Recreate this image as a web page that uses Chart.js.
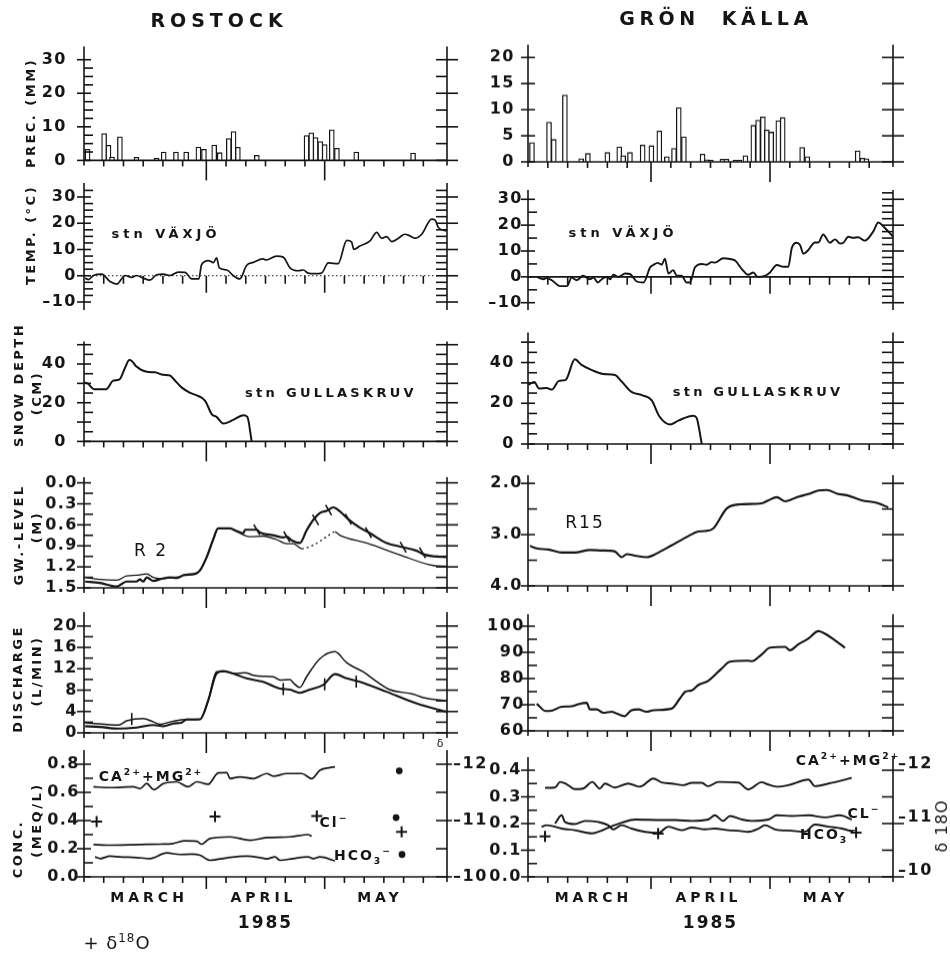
<!DOCTYPE html>
<html lang="sv">
<head>
<meta charset="utf-8">
<title>Rostock / Grön Källa 1985</title>
<script src="https://cdn.jsdelivr.net/npm/chart.js@4.4.1/dist/chart.umd.min.js"></script>
<style>
html,body{margin:0;padding:0;background:#fff}
body{position:relative;width:950px;height:954px;overflow:hidden;font-family:"DejaVu Sans",sans-serif;color:#151515}
.panel{position:absolute}
.panel canvas{display:block}
.t{position:absolute;white-space:nowrap;line-height:1;font-weight:bold}
.t sup,.t sub{font-size:66%;line-height:0}
</style>
</head>
<body>
<script>
const INK = '#151515';
const FONT = '"DejaVu Sans", "Liberation Sans", sans-serif';

// ---------------- x axis: days after 1 March 1985 (31 = 1 Apr, 61 = 1 May, 92 = 1 Jun) --------------
const dayMin = 0, dayMax = 92;
const monthNames = ['MARCH', 'APRIL', 'MAY'];
const monthMidDays = [16.5, 45.5, 75];
const monthStartDays = [31, 61];
const fiveDayTicks = [5, 10, 15, 20, 25, 36, 41, 46, 51, 56, 66, 71, 76, 81, 86];
const yearLabel = '1985';

// ---------------- precipitation (mm) ----------------
const precRostockDays = [0.9, 5.1, 6.2, 7.1, 9.1, 13.3, 18.4, 20.2, 23.3, 25.9, 29.0, 30.4, 33.0, 34.4, 36.7, 37.9, 39.0, 43.8, 56.4, 57.6, 58.7, 59.9, 61.0, 62.8, 64.1, 69.0, 83.4];
const precRostock = [3.3, 8.0, 4.5, 1.0, 7.0, 0.9, 0.7, 2.5, 2.5, 2.5, 4.0, 3.3, 4.6, 2.3, 6.5, 8.6, 3.9, 1.5, 7.4, 8.2, 6.8, 5.6, 4.7, 9.1, 3.6, 2.5, 2.2];
const precGronDays = [1.0, 5.3, 6.5, 9.3, 13.4, 15.1, 20.0, 23.0, 24.0, 25.7, 28.9, 31.1, 33.1, 35.0, 36.8, 38.0, 39.3, 44.0, 45.1, 46.1, 49.0, 50.0, 52.3, 53.3, 54.8, 56.8, 58.0, 59.2, 60.2, 61.3, 63.1, 64.2, 69.1, 70.4, 83.1, 84.3, 85.3];
const precGron = [3.7, 7.6, 4.3, 12.8, 0.6, 1.6, 1.8, 2.9, 1.2, 1.8, 3.2, 3.1, 5.9, 1.0, 2.6, 10.4, 4.8, 1.5, 0.4, 0.3, 0.5, 0.5, 0.3, 0.3, 1.2, 7.0, 8.0, 8.6, 6.1, 5.7, 7.9, 8.5, 2.8, 1.0, 2.1, 0.7, 0.6];

// ---------------- air temperature, stn Växjö (°C) ----------------
const tempRostockDays = [0.3, 1.1, 2.4, 4.5, 6.6, 8.3, 10.4, 12.1, 13.3, 15.0, 16.7, 18.4, 20.1, 21.8, 23.9, 25.6, 27.3, 29.1, 29.8, 31.5, 32.8, 33.6, 34.3, 36.2, 37.8, 39.5, 41.2, 42.9, 45.4, 46.2, 48.8, 50.5, 52.2, 54.3, 55.6, 56.8, 58.5, 60.2, 61.9, 64.4, 66.6, 67.8, 68.4, 69.9, 72.5, 74.2, 75.4, 76.7, 78.0, 79.7, 81.3, 82.6, 83.9, 85.6, 88.1, 89.0, 89.8, 91.9];
const tempRostock = [-0.9, -1.5, 0.1, 0.6, -2.2, -3.2, 0.1, -0.6, 0.1, -0.9, -1.7, 0.4, 0.6, 0.1, 1.4, 1.3, -1.2, -1.2, 4.2, 5.8, 5.0, 6.8, 3.0, 2.2, 0.1, -1.2, 3.9, 5.1, 6.4, 6.0, 7.5, 7.1, 3.0, 1.9, 2.2, 1.0, 0.8, 1.0, 4.9, 4.6, 13.5, 12.9, 10.0, 11.3, 13.3, 16.5, 14.3, 14.9, 13.0, 14.3, 15.8, 15.2, 14.3, 15.8, 21.6, 21.2, 18.4, 17.1];
const tempGronDays = [2.2, 3.9, 4.7, 6.0, 8.1, 9.8, 11.0, 12.3, 13.9, 15.6, 16.5, 17.6, 18.6, 19.8, 20.7, 21.5, 22.8, 24.5, 25.7, 27.4, 29.1, 30.8, 31.6, 32.7, 33.7, 34.5, 35.4, 36.6, 37.5, 38.7, 40.0, 40.8, 42.1, 43.8, 45.0, 46.3, 47.1, 49.2, 50.9, 52.2, 53.9, 55.5, 56.8, 57.9, 59.7, 61.0, 62.7, 64.4, 65.6, 66.5, 67.7, 68.6, 69.4, 70.6, 72.3, 73.2, 74.4, 76.1, 77.4, 78.6, 79.5, 80.7, 82.0, 83.2, 84.9, 87.0, 88.3, 89.6, 92.0];
const tempGron = [0.0, -0.9, -0.5, -1.3, -3.6, -3.6, -0.3, -1.3, 0.4, -0.9, -0.3, -2.2, -0.9, 0.0, -0.9, 0.8, 0.0, 1.3, 1.1, -1.8, -2.2, 3.7, 4.6, 5.4, 4.7, 7.0, 1.3, 2.6, 0.4, 0.4, -2.2, -2.2, 3.7, 5.0, 4.7, 5.7, 5.5, 7.2, 6.9, 6.3, 3.0, 0.8, 1.7, 0.0, 0.4, 1.7, 4.6, 3.9, 3.9, 11.2, 13.2, 12.2, 8.9, 10.3, 13.3, 13.3, 16.4, 13.2, 14.5, 12.9, 13.2, 15.5, 15.1, 15.3, 14.0, 17.5, 21.0, 19.5, 15.5];

// ---------------- snow depth, stn Gullaskruv (cm) ----------------
const snowRostockDays = [0.3, 1.1, 2.5, 5.6, 7.4, 9.0, 10.4, 11.5, 12.1, 13.2, 15.9, 18.0, 20.1, 21.8, 22.6, 24.8, 26.9, 28.6, 30.7, 32.4, 33.6, 35.3, 37.8, 40.4, 41.4, 42.5];
const snowRostock = [30.5, 29.7, 27.0, 27.0, 31.4, 32.1, 38.1, 42.1, 41.6, 38.9, 36.0, 35.7, 34.4, 34.1, 32.5, 27.8, 25.1, 23.8, 21.0, 14.0, 12.7, 9.2, 11.1, 13.5, 12.7, 0];
const snowGronDays = [0.1, 1.6, 2.8, 4.7, 6.0, 7.8, 9.5, 11.8, 13.4, 16.1, 19.0, 21.9, 23.6, 26.1, 28.7, 31.2, 33.0, 35.8, 37.9, 41.7, 42.5, 43.8];
const snowGron = [29.1, 30.4, 27.2, 27.5, 26.7, 31.0, 31.5, 41.6, 39.0, 36.3, 34.4, 33.9, 30.7, 25.6, 24.0, 21.4, 13.9, 9.6, 11.5, 13.9, 12.8, 0];

// ---------------- groundwater level (m below surface) ----------------
const gwR2Days = [0.3, 4.0, 8.3, 10.8, 13.3, 14.2, 15.0, 15.9, 17.6, 19.7, 21.8, 23.5, 25.2, 28.1, 29.4, 31.1, 32.8, 34.0, 37.0, 38.7, 40.4, 40.8, 43.8, 44.6, 48.0, 50.5, 51.4, 52.6, 54.7, 56.4, 58.1, 59.8, 61.5, 63.2, 64.9, 67.0, 69.9, 72.5, 76.7, 80.1, 84.3, 86.0, 88.5, 91.9];
const gwR2 = [1.41, 1.43, 1.48, 1.41, 1.41, 1.38, 1.41, 1.35, 1.40, 1.37, 1.35, 1.36, 1.32, 1.30, 1.25, 1.06, 0.80, 0.65, 0.65, 0.69, 0.72, 0.67, 0.67, 0.71, 0.75, 0.78, 0.77, 0.82, 0.86, 0.68, 0.53, 0.43, 0.40, 0.35, 0.41, 0.52, 0.64, 0.72, 0.86, 0.91, 0.97, 1.02, 1.05, 1.06];
const gwR2bDays = [0.3, 4.0, 8.3, 10.8, 13.3, 15.9, 17.6, 20.1, 22.6, 24.3, 25.5, 28.1, 29.4, 31.1, 32.8, 34.0, 37.0, 39.5, 42.1, 45.4, 48.8, 51.4, 53.0, 55.2, 58.1, 61.5, 63.6, 64.9, 71.6, 80.1, 88.5, 91.9];
const gwR2b = [1.35, 1.38, 1.39, 1.33, 1.32, 1.30, 1.35, 1.37, 1.35, 1.34, 1.31, 1.30, 1.25, 1.06, 0.80, 0.65, 0.65, 0.72, 0.77, 0.76, 0.81, 0.87, 0.87, 0.94, 0.89, 0.77, 0.70, 0.75, 0.86, 1.03, 1.18, 1.19];
const gwR2MarkDays = [43.8, 51.4, 58.7, 62.0, 67.0, 72.1, 80.9, 85.8];
const gwR2Marks = [0.67, 0.77, 0.53, 0.39, 0.52, 0.71, 0.92, 1.00];
const gwR15Days = [0.5, 2.2, 5.1, 8.5, 11.8, 15.6, 18.6, 21.9, 23.6, 24.9, 27.0, 29.9, 32.4, 36.2, 40.4, 42.9, 44.6, 46.7, 50.1, 53.4, 58.9, 60.6, 62.7, 64.8, 68.1, 70.7, 73.2, 75.3, 78.2, 80.3, 84.1, 88.3, 90.8];
const gwR15 = [3.22, 3.27, 3.29, 3.35, 3.35, 3.30, 3.31, 3.33, 3.44, 3.38, 3.41, 3.44, 3.37, 3.21, 3.03, 2.94, 2.93, 2.88, 2.49, 2.41, 2.39, 2.33, 2.27, 2.35, 2.26, 2.21, 2.14, 2.13, 2.21, 2.23, 2.33, 2.39, 2.47];

// ---------------- discharge ----------------
const dischRostockUpperDays = [0.3, 2.8, 8.7, 10.8, 15.0, 17.6, 19.3, 21.8, 24.3, 26.0, 29.4, 31.5, 33.6, 36.2, 37.8, 40.8, 42.9, 45.4, 48.0, 49.7, 52.2, 53.0, 54.7, 56.4, 59.8, 63.6, 66.6, 70.8, 74.2, 77.5, 83.4, 86.0, 91.9];
const dischRostockUpper = [1.9, 1.75, 1.45, 2.25, 2.7, 2.05, 1.6, 2.05, 2.4, 2.55, 2.55, 6.1, 11.45, 11.45, 11.1, 11.25, 10.8, 10.6, 10.5, 9.9, 10.0, 9.4, 8.5, 10.5, 13.9, 15.2, 13.1, 11.4, 9.6, 8.1, 7.25, 6.6, 6.0];
const dischRostockLowerDays = [0.3, 4.1, 8.7, 13.3, 17.6, 20.1, 22.6, 24.8, 26.0, 29.4, 31.5, 33.6, 35.3, 37.8, 41.2, 45.4, 49.7, 52.2, 54.7, 57.2, 60.6, 63.6, 66.6, 69.9, 76.7, 84.3, 91.9];
const dischRostockLower = [1.25, 1.1, 0.8, 1.0, 1.45, 1.25, 1.75, 1.95, 2.5, 2.55, 6.1, 11.1, 11.55, 11.1, 10.2, 9.55, 8.3, 8.1, 7.5, 8.1, 8.95, 11.0, 10.2, 9.55, 7.7, 5.5, 3.95];
const dischRostockMarkDays = [12.1, 50.5, 61.0, 69.0];
const dischRostockMarks = [2.6, 8.2, 9.1, 9.6];
const dischGronDays = [2.2, 3.0, 4.3, 5.5, 8.5, 11.0, 12.7, 14.8, 15.6, 17.3, 19.0, 21.1, 22.4, 24.3, 26.1, 27.8, 29.9, 31.6, 36.2, 38.3, 39.6, 41.3, 42.9, 45.4, 48.8, 50.9, 55.5, 56.4, 58.9, 61.0, 64.8, 66.0, 68.1, 70.7, 73.2, 74.4, 77.4, 79.9];
const dischGron = [70.4, 69.2, 67.6, 67.6, 69.2, 69.4, 70.2, 70.7, 68.2, 68.2, 66.9, 67.3, 66.6, 65.6, 67.9, 68.2, 67.3, 67.9, 68.5, 72.4, 74.9, 75.5, 77.5, 79.1, 83.8, 86.4, 86.8, 86.6, 89.2, 91.8, 92.1, 90.8, 93.0, 95.3, 98.1, 97.5, 94.6, 91.8];

// ---------------- concentrations (meq/l) and delta 18O ----------------
const concCaMgRostockDays = [2.4, 6.6, 12.5, 14.2, 15.9, 17.7, 20.1, 23.5, 26.4, 28.6, 31.5, 34.0, 36.2, 37.0, 39.5, 42.9, 46.3, 48.0, 51.4, 55.2, 57.7, 59.8, 63.6];
const concCaMgRostock = [0.64, 0.634, 0.64, 0.627, 0.663, 0.62, 0.663, 0.675, 0.64, 0.675, 0.658, 0.738, 0.741, 0.698, 0.71, 0.698, 0.734, 0.715, 0.734, 0.734, 0.698, 0.757, 0.781];
const concClRostockDays = [2.4, 6.6, 14.2, 19.3, 22.6, 25.6, 28.6, 29.8, 31.9, 37.0, 42.1, 46.3, 52.2, 56.8, 57.7];
const concClRostock = [0.23, 0.225, 0.23, 0.232, 0.237, 0.256, 0.253, 0.232, 0.272, 0.284, 0.26, 0.279, 0.284, 0.30, 0.289];
const concHco3RostockDays = [2.8, 4.1, 6.6, 9.1, 13.3, 16.7, 21.0, 24.3, 27.3, 29.4, 31.9, 36.2, 41.2, 44.6, 46.3, 48.4, 49.7, 53.0, 56.8, 58.1, 59.8, 63.6];
const concHco3Rostock = [0.142, 0.13, 0.147, 0.142, 0.137, 0.13, 0.17, 0.159, 0.161, 0.154, 0.118, 0.135, 0.147, 0.137, 0.128, 0.142, 0.118, 0.13, 0.142, 0.13, 0.142, 0.114];
const singleRostockDays = [79.9, 79.1, 80.6];
const singleRostock = [0.753, 0.421, 0.159];
const d18oRostockDays = [3.2, 33.2, 59.0, 80.5];
const d18oRostock = [-10.98, -11.07, -11.08, -10.80];

const concCaMgGronDays = [4.3, 6.8, 8.1, 9.7, 11.8, 13.9, 16.2, 18.1, 19.4, 21.9, 25.3, 28.2, 31.6, 33.7, 36.2, 39.2, 41.3, 43.8, 45.4, 48.0, 53.0, 55.5, 58.9, 60.2, 62.7, 65.6, 70.7, 72.3, 75.7, 81.6];
const concCaMgGron = [0.334, 0.335, 0.356, 0.348, 0.329, 0.331, 0.356, 0.331, 0.35, 0.335, 0.35, 0.338, 0.369, 0.354, 0.35, 0.344, 0.353, 0.353, 0.34, 0.356, 0.354, 0.328, 0.355, 0.348, 0.338, 0.344, 0.365, 0.34, 0.35, 0.371];
const concClGronDays = [3.4, 4.7, 8.5, 11.8, 16.1, 17.7, 21.1, 23.6, 27.0, 33.7, 37.1, 41.3, 45.4, 47.1, 49.2, 50.9, 53.9, 56.4, 60.6, 62.7, 66.5, 70.7, 74.9, 78.6, 81.6];
const concClGron = [0.188, 0.194, 0.181, 0.175, 0.163, 0.169, 0.19, 0.203, 0.215, 0.213, 0.213, 0.21, 0.215, 0.231, 0.21, 0.228, 0.215, 0.21, 0.215, 0.231, 0.228, 0.231, 0.223, 0.231, 0.215];
const concHco3GronDays = [6.8, 8.5, 9.3, 11.8, 14.4, 17.7, 20.2, 21.5, 23.6, 26.1, 29.5, 32.8, 35.4, 38.7, 41.3, 44.6, 47.1, 50.5, 53.0, 55.5, 58.1, 59.7, 62.3, 66.5, 69.8, 72.3, 75.7, 79.1, 82.0];
const concHco3Gron = [0.2, 0.231, 0.206, 0.198, 0.21, 0.206, 0.194, 0.178, 0.194, 0.181, 0.169, 0.165, 0.188, 0.175, 0.185, 0.178, 0.181, 0.175, 0.173, 0.169, 0.181, 0.194, 0.178, 0.173, 0.169, 0.196, 0.188, 0.181, 0.169];
const d18oGronDays = [4.3, 32.8, 82.7];
const d18oGron = [-10.76, -10.81, -10.83];

// ---------------- y tick values ----------------
const precRostockTicks = [0, 10, 20, 30];
const precRostockMinor = [2.5, 5, 7.5, 12.5, 15, 17.5, 22.5, 25, 27.5];
const precRostockRightMinor = [5, 15, 25];
const precGronTicks = [0, 5, 10, 15, 20];
const tempTicks = [-10, 0, 10, 20, 30];
const tempMinorFine = [-7.5, -5, -2.5, 2.5, 5, 7.5, 12.5, 15, 17.5, 22.5, 25, 27.5, 32.5];
const tempMinorCoarse = [-5, 5, 15, 25];
const snowTicks = [0, 20, 40];
const snowTens = [0, 10, 20, 30, 40, 50];
const snowFives = [5, 15, 25, 35, 45];
const gwR2Ticks = [0, 0.3, 0.6, 0.9, 1.2, 1.5];
const gwR2Minor = [0.15, 0.45, 0.75, 1.05, 1.35];
const gwR15Ticks = [2, 3, 4];
const gwR15Minor = [2.5, 3.5];
const dischRostockTicks = [0, 4, 8, 12, 16, 20];
const dischRostockMinor = [2, 6, 10, 14, 18];
const dischGronTicks = [60, 70, 80, 90, 100];
const dischGronMinor = [65, 75, 85, 95];
const concRostockTicks = [0, 0.2, 0.4, 0.6, 0.8];
const concRostockMinor = [0.1, 0.3, 0.5, 0.7];
const concGronTicks = [0, 0.1, 0.2, 0.3, 0.4];
const concGronMinor = [0.05, 0.15, 0.25, 0.35];
const d18oTicks = [-12, -11, -10];
const d18oMinor = [-11.5, -10.5];

// ---------------- helpers ----------------
const pts = (days, vals) => days.map((d, i) => ({x: d, y: vals[i]}));
const fmt = (v, dec) => (v < 0 ? '\u2013' : '') + Math.abs(v).toFixed(dec);
function line(days, vals, extra) {
  return Object.assign({type: 'line', data: pts(days, vals), borderColor: INK, borderWidth: 2,
    pointRadius: 0, cubicInterpolationMode: 'monotone', fill: false}, extra || {});
}
function bars(days, vals) {
  return {type: 'bar', data: pts(days, vals), backgroundColor: '#fff', borderColor: INK,
    borderWidth: 1.3, barThickness: 5, borderSkipped: 'bottom'};
}
function marks(days, vals, style) {
  return Object.assign({type: 'line', showLine: false, data: pts(days, vals), borderColor: INK,
    backgroundColor: INK, pointBorderWidth: 1.6}, style);
}
const L_AX = {out: 7, inn: 7, mi: 9};
const R_AX = {out: 11, inn: 11, mi: 11};
const yAx = (id, side, major, minor, extra) => Object.assign({id, side, major, minor: minor || []}, side === 'left' ? L_AX : R_AX, extra || {});

const sciAxes = {
  id: 'sciAxes',
  beforeDraw(chart) { chart.ctx.letterSpacing = '1.5px'; },
  afterDatasetsDraw(chart, args, o) {
    const {ctx, chartArea: a, scales} = chart;
    const xs = scales.x;
    const seg = (x1, y1, x2, y2) => { ctx.beginPath(); ctx.moveTo(x1, y1); ctx.lineTo(x2, y2); ctx.stroke(); };
    ctx.save();
    ctx.strokeStyle = INK;
    ctx.lineWidth = 1.6;
    const baseY = (o.base !== undefined && o.base !== null) ? scales.y.getPixelForValue(o.base) : a.bottom;
    seg(a.left, a.top, a.left, a.bottom + 5);
    seg(a.right, a.top, a.right, a.bottom + 5);
    ctx.save();
    if (o.baseDash) { ctx.setLineDash(o.baseDash); ctx.lineWidth = 1.2; }
    seg(a.left, baseY, a.right, baseY);
    ctx.restore();
    fiveDayTicks.forEach(d => { const px = xs.getPixelForValue(d); seg(px, baseY, px, baseY + o.minorLen); });
    monthStartDays.forEach(d => { const px = xs.getPixelForValue(d); seg(px, baseY, px, baseY + o.majorLen); });
    (o.yAxes || []).forEach(ax => {
      const s = scales[ax.id];
      const px = ax.side === 'left' ? a.left : a.right;
      const dir = ax.side === 'left' ? 1 : -1;
      ax.major.forEach(v => { const py = s.getPixelForValue(v); seg(px - dir * ax.out, py, px + dir * ax.inn, py); });
      ax.minor.forEach(v => { const py = s.getPixelForValue(v); seg(px, py, px + dir * ax.mi, py); });
    });
    ctx.restore();
  }
};

const COLS = {
  L: {x: 0, w: 490, left: 84, right: 447},
  R: {x: 475, w: 475, left: 528, right: 893}
};

function makePanel(p) {
  const col = COLS[p.col];
  const top = p.top - 20;
  const h = p.bottom + 25 - top;
  const box = document.createElement('div');
  box.className = 'panel';
  Object.assign(box.style, {left: col.x + 'px', top: top + 'px', width: col.w + 'px', height: h + 'px'});
  const cv = document.createElement('canvas');
  cv.width = col.w; cv.height = h;
  cv.style.width = col.w + 'px'; cv.style.height = h + 'px';
  box.appendChild(cv);
  document.body.appendChild(box);
  const tickFont = {family: FONT, size: 16, weight: 'bold'};
  const scales = {
    x: {type: 'linear', display: false, offset: false, min: dayMin, max: dayMax},
    y: {type: 'linear', position: 'left', min: p.min, max: p.max, reverse: !!p.reverse,
      afterFit: s => { s.width = col.left - col.x; },
      afterBuildTicks: s => { s.ticks = p.labels.map(v => ({value: v})); },
      grid: {display: false, drawTicks: false}, border: {display: false},
      ticks: {padding: p.pad, color: INK, font: tickFont, autoSkip: false, callback: v => fmt(v, p.dec)}}
  };
  if (p.y2) {
    scales.y2 = {type: 'linear', position: 'right', min: p.y2.min, max: p.y2.max, reverse: true,
      afterFit: s => { s.width = col.x + col.w - col.right; },
      afterBuildTicks: s => { s.ticks = p.y2.labels.map(v => ({value: v})); },
      grid: {display: false, drawTicks: false}, border: {display: false},
      ticks: {padding: p.y2.pad || 4, labelOffset: p.y2.offset || 0, color: INK, font: tickFont, autoSkip: false, callback: v => fmt(v, 0)}};
  }
  const chart = new Chart(cv, {
    type: 'line',
    data: {datasets: p.datasets},
    options: {
      responsive: false, animation: false, events: [],
      layout: {padding: {top: 20, bottom: 25, left: 0, right: p.y2 ? 0 : col.x + col.w - col.right}},
      plugins: {legend: {display: false}, tooltip: {enabled: false}, sciAxes: p.axes},
      scales
    },
    plugins: [sciAxes]
  });
  return {chart, col};
}

function addText(html, x, y, o) {
  o = o || {};
  const el = document.createElement('div');
  el.className = 't';
  el.innerHTML = html;
  el.style.left = x + 'px';
  el.style.top = y + 'px';
  el.style.fontSize = (o.size || 14) + 'px';
  el.style.letterSpacing = (o.ls !== undefined ? o.ls : 2) + 'px';
  if (o.weight) el.style.fontWeight = o.weight;
  el.style.transform = 'translate(-50%, -50%)' + (o.rot ? ' rotate(' + o.rot + 'deg)' : '');
  document.body.appendChild(el);
  return el;
}

const stdX = {minorLen: 6, majorLen: 20};

// ---------------- ROSTOCK (left) ----------------
makePanel({col: 'L', top: 40, bottom: 162, min: 0, max: 33.9, labels: precRostockTicks, dec: 0, pad: 17,
  datasets: [bars(precRostockDays, precRostock)],
  axes: Object.assign({yAxes: [yAx('y', 'left', precRostockTicks, precRostockMinor), yAx('y', 'right', precRostockTicks, precRostockRightMinor)]}, stdX)});
makePanel({col: 'L', top: 183, bottom: 305, min: -11.14, max: 35.33, labels: tempTicks, dec: 0, pad: 7,
  datasets: [line(tempRostockDays, tempRostock, {borderWidth: 1.7})],
  axes: {base: 0, baseDash: [1.5, 2.5], minorLen: 8, majorLen: 17,
    yAxes: [yAx('y', 'left', tempTicks, tempMinorFine), yAx('y', 'right', tempTicks, tempMinorFine)]}});
makePanel({col: 'L', top: 335, bottom: 443.3, min: 0, max: 51.6, labels: snowTicks, dec: 0, pad: 17,
  datasets: [line(snowRostockDays, snowRostock)],
  axes: Object.assign({yAxes: [yAx('y', 'left', snowTens, snowFives), yAx('y', 'right', snowTens, snowFives)]}, stdX)});
makePanel({col: 'L', top: 477, bottom: 587.7, min: -0.081, max: 1.5, reverse: true, labels: gwR2Ticks, dec: 1, pad: 6,
  datasets: [
    line(gwR2Days, gwR2, {borderWidth: 2.2}),
    line(gwR2bDays, gwR2b, {borderWidth: 1.3, segment: {borderDash: c => (c.p0.parsed.x >= 55 && c.p1.parsed.x <= 64) ? [2, 3] : undefined}}),
    marks(gwR2MarkDays, gwR2Marks, {pointStyle: 'line', pointRadius: 6, pointRotation: 60})
  ],
  axes: Object.assign({yAxes: [yAx('y', 'left', gwR2Ticks, gwR2Minor), yAx('y', 'right', gwR2Ticks, gwR2Minor)]}, stdX)});
makePanel({col: 'L', top: 612, bottom: 732.7, min: 0, max: 22.6, labels: dischRostockTicks, dec: 0, pad: 6,
  datasets: [
    line(dischRostockUpperDays, dischRostockUpper, {borderWidth: 1.5}),
    line(dischRostockLowerDays, dischRostockLower, {borderWidth: 2.1}),
    marks(dischRostockMarkDays, dischRostockMarks, {pointStyle: 'line', pointRadius: 6, pointRotation: 90})
  ],
  axes: Object.assign({yAxes: [yAx('y', 'left', dischRostockTicks, dischRostockMinor), yAx('y', 'right', dischRostockTicks, dischRostockMinor)]}, stdX)});
const concL = makePanel({col: 'L', top: 750, bottom: 876.7, min: 0, max: 0.9, labels: concRostockTicks, dec: 1, pad: 4,
  y2: {min: -12.25, max: -10, labels: d18oTicks, pad: 6},
  datasets: [
    line(concCaMgRostockDays, concCaMgRostock, {borderWidth: 1.7}),
    line(concClRostockDays, concClRostock, {borderWidth: 1.7}),
    line(concHco3RostockDays, concHco3Rostock, {borderWidth: 1.7}),
    marks(singleRostockDays, singleRostock, {pointStyle: 'circle', pointRadius: 2.6}),
    marks(d18oRostockDays, d18oRostock, {yAxisID: 'y2', pointStyle: 'cross', pointRadius: 5.5, pointBorderWidth: 2})
  ],
  axes: {minorLen: 6, majorLen: 12,
    yAxes: [yAx('y', 'left', concRostockTicks, concRostockMinor), yAx('y2', 'right', d18oTicks, d18oMinor, {out: 5})]}});

// ---------------- GRÖN KÄLLA (right) ----------------
makePanel({col: 'R', top: 42, bottom: 161.5, min: 0, max: 22.44, labels: precGronTicks, dec: 0, pad: 13,
  datasets: [bars(precGronDays, precGron)],
  axes: Object.assign({yAxes: [yAx('y', 'left', precGronTicks), yAx('y', 'right', precGronTicks)]}, stdX)});
makePanel({col: 'R', top: 190, bottom: 305, min: -10.89, max: 33.6, labels: tempTicks, dec: 0, pad: 5,
  datasets: [line(tempGronDays, tempGron, {borderWidth: 1.9})],
  axes: {base: 0, minorLen: 8, majorLen: 17,
    yAxes: [yAx('y', 'left', tempTicks, tempMinorCoarse), yAx('y', 'right', tempTicks, tempMinorFine)]}});
makePanel({col: 'R', top: 330, bottom: 444, min: 0, max: 54.7, labels: snowTicks, dec: 0, pad: 13,
  datasets: [line(snowGronDays, snowGron)],
  axes: Object.assign({yAxes: [yAx('y', 'left', snowTens, snowFives), yAx('y', 'right', snowTens, snowFives)]}, stdX)});
makePanel({col: 'R', top: 475, bottom: 585.7, min: 1.84, max: 4.0, reverse: true, labels: gwR15Ticks, dec: 1, pad: 5,
  datasets: [line(gwR15Days, gwR15, {borderWidth: 2.1})],
  axes: Object.assign({yAxes: [yAx('y', 'left', gwR15Ticks, gwR15Minor), yAx('y', 'right', gwR15Ticks, gwR15Minor)]}, stdX)});
makePanel({col: 'R', top: 614, bottom: 730.7, min: 60, max: 104.6, labels: dischGronTicks, dec: 0, pad: 3,
  datasets: [line(dischGronDays, dischGron, {borderWidth: 2.1})],
  axes: Object.assign({yAxes: [yAx('y', 'left', dischGronTicks, dischGronMinor), yAx('y', 'right', dischGronTicks, dischGronMinor)]}, stdX)});
const concR = makePanel({col: 'R', top: 757, bottom: 876.7, min: 0, max: 0.449, labels: concGronTicks, dec: 1, pad: 6,
  y2: {min: -12.245, max: -10, labels: d18oTicks, offset: -6, pad: 5},
  datasets: [
    line(concCaMgGronDays, concCaMgGron, {borderWidth: 1.9}),
    line(concClGronDays, concClGron, {borderWidth: 1.9}),
    line(concHco3GronDays, concHco3Gron, {borderWidth: 1.9}),
    marks(d18oGronDays, d18oGron, {yAxisID: 'y2', pointStyle: 'cross', pointRadius: 5.5, pointBorderWidth: 2})
  ],
  axes: {minorLen: 6, majorLen: 12,
    yAxes: [yAx('y', 'left', concGronTicks, concGronMinor), yAx('y2', 'right', d18oTicks, d18oMinor)]}});

// ---------------- month labels and year (positioned through the x scales) ----------------
[concL, concR].forEach(p => {
  const xs = p.chart.scales.x;
  monthNames.forEach((m, i) => addText(m, p.col.x + xs.getPixelForValue(monthMidDays[i]), 897, {size: 14, ls: 4}));
  addText(yearLabel, p.col.x + xs.getPixelForValue(46), 922, {size: 17, ls: 2});
});

// ---------------- titles, axis titles, annotations ----------------
addText('ROSTOCK', 219, 20, {size: 19, ls: 5});
addText('GRÖN&nbsp;&nbsp;KÄLLA', 716, 18, {size: 19, ls: 4.5});

const axisTitle = {size: 13, ls: 2.5, rot: -90};
addText('PREC. (MM)', 30, 113, axisTitle);
addText('TEMP. (°C)', 30, 235, axisTitle);
addText('SNOW DEPTH', 18, 385, axisTitle);
addText('(CM)', 36, 393, axisTitle);
addText('GW.-LEVEL', 18, 535, axisTitle);
addText('(M)', 36, 527, axisTitle);
addText('DISCHARGE', 17, 679, axisTitle);
addText('(L/MIN)', 36, 671, axisTitle);
addText('CONC.', 17, 849, axisTitle);
addText('(MEQ/L)', 36, 820, axisTitle);
addText('δ 18O', 942, 826, {size: 16, ls: 1, rot: -90, weight: 'normal'});

addText('stn VÄXJÖ', 166, 233, {size: 13, ls: 4});
addText('stn VÄXJÖ', 623, 232, {size: 13, ls: 4});
addText('stn GULLASKRUV', 331, 392, {size: 13, ls: 3.3});
addText('stn GULLASKRUV', 758, 391, {size: 13, ls: 3.2});
addText('R 2', 151, 550, {size: 17, ls: 2, weight: 'normal'});
addText('R15', 585, 522, {size: 17, ls: 2, weight: 'normal'});

addText('CA<sup>2+</sup>+MG<sup>2+</sup>', 151, 776, {size: 14, ls: 2});
addText('Cl<sup>−</sup>', 334, 822, {size: 14, ls: 2});
addText('HCO<sub>3</sub><sup>−</sup>', 363, 855, {size: 14, ls: 2});
addText('CA<sup>2+</sup>+MG<sup>2+</sup>', 848, 760, {size: 14, ls: 2});
addText('CL<sup>−</sup>', 864, 813, {size: 14, ls: 2});
addText('HCO<sub>3</sub><sup>−</sup>', 829, 834, {size: 14, ls: 2});
addText('δ', 440, 743, {size: 11, ls: 0, weight: 'normal'});
addText('+ δ<sup>18</sup>O', 117, 943, {size: 18, ls: 1, weight: 'normal'});
</script>
</body>
</html>
